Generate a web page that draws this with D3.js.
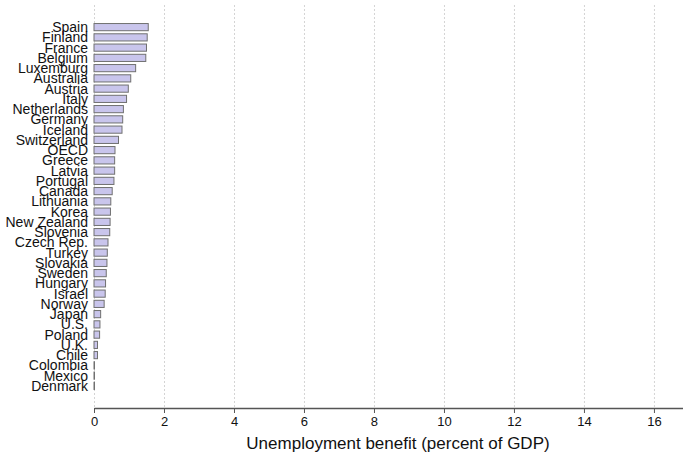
<!DOCTYPE html>
<html>
<head>
<meta charset="utf-8">
<script src="https://cdn.jsdelivr.net/npm/d3@7/dist/d3.min.js"></script>
<style>
  html, body { margin: 0; padding: 0; background: #fff; }
  svg { display: block; font-family: "Liberation Sans", Arial, Helvetica, sans-serif; }
</style>
</head>
<body>
<svg id="chart" width="683" height="456"></svg>
<script>
// Public spending on unemployment benefits, percent of GDP
const countries = [
  "Spain", "Finland", "France", "Belgium", "Luxemburg", "Australia", "Austria",
  "Italy", "Netherlands", "Germany", "Iceland", "Switzerland", "OECD", "Greece",
  "Latvia", "Portugal", "Canada", "Lithuania", "Korea", "New Zealand", "Slovenia",
  "Czech Rep.", "Turkey", "Slovakia", "Sweden", "Hungary", "Israel", "Norway",
  "Japan", "U.S.", "Poland", "U.K.", "Chile", "Colombia", "Mexico", "Denmark"
];
const benefit = [
  1.55, 1.52, 1.50, 1.48, 1.19, 1.05, 0.98,
  0.93, 0.84, 0.82, 0.80, 0.70, 0.60, 0.59,
  0.59, 0.57, 0.52, 0.48, 0.47, 0.46, 0.45,
  0.40, 0.38, 0.37, 0.35, 0.33, 0.32, 0.29,
  0.19, 0.17, 0.16, 0.10, 0.10, 0.01, 0.01, 0.01
];
const xTicks = [0, 2, 4, 6, 8, 10, 12, 14, 16];
const xTitle = "Unemployment benefit (percent of GDP)";

const rows = countries.map((c, i) => ({ country: c, value: benefit[i] }));

const svg = d3.select("#chart");
const plotLeft = 94, plotRight = 683, plotTop = 5, axisY = 408;

const x = d3.scaleLinear().domain([0, 16.83]).range([plotLeft, plotRight]);
const y = d3.scaleBand().domain(countries).range([22, 391]).paddingInner(0.3).paddingOuter(0.15);

// dotted vertical gridlines
svg.append("g")
  .selectAll("line")
  .data(xTicks)
  .join("line")
  .attr("x1", d => x(d) + 0.5)
  .attr("x2", d => x(d) + 0.5)
  .attr("y1", plotTop)
  .attr("y2", axisY)
  .attr("stroke", "#d4d4d4")
  .attr("stroke-width", 1)
  .attr("stroke-dasharray", "2,2");

// bars
svg.append("g")
  .selectAll("rect")
  .data(rows)
  .join("rect")
  .attr("x", x(0))
  .attr("y", d => y(d.country))
  .attr("width", d => Math.max(0.5, x(d.value) - x(0)))
  .attr("height", y.bandwidth())
  .attr("fill", "#c9c5ec")
  .attr("stroke", "#707070")
  .attr("stroke-width", 1);

// category labels
svg.append("g")
  .selectAll("text")
  .data(rows)
  .join("text")
  .attr("x", 88)
  .attr("y", d => y(d.country) + y.bandwidth() / 2)
  .attr("dy", "0.36em")
  .attr("text-anchor", "end")
  .attr("font-size", 14)
  .attr("fill", "#111")
  .text(d => d.country);

// x axis
const xAxis = d3.axisBottom(x).tickValues(xTicks).tickSize(5).tickPadding(4).tickSizeOuter(0);
const gx = svg.append("g").attr("transform", `translate(0,${axisY})`).call(xAxis);
gx.select(".domain").attr("stroke", "#555").attr("stroke-width", 1.5);
gx.selectAll(".tick line").attr("stroke", "#555");
gx.selectAll(".tick text").attr("font-size", 13).attr("fill", "#111")
  .attr("font-family", "'Liberation Sans', Arial, sans-serif");

svg.append("text")
  .attr("x", 398)
  .attr("y", 449)
  .attr("text-anchor", "middle")
  .attr("font-size", 17)
  .attr("fill", "#111")
  .text(xTitle);
</script>
</body>
</html>
